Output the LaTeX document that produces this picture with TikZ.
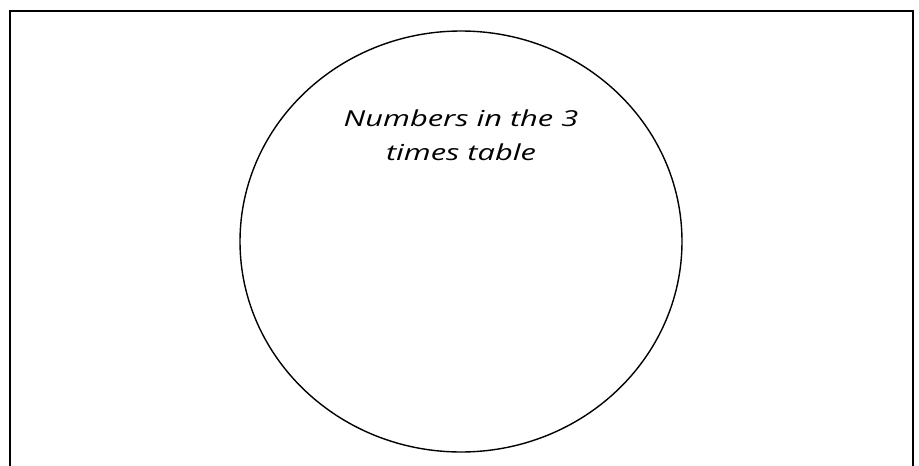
\documentclass[tikz,border=0pt]{standalone}
\usepackage{fontspec}
\setmainfont{Open Sans}
\newfontfamily\widesans[FakeStretch=1.40]{Open Sans}
\usetikzlibrary{positioning}
\tikzset{
  frame/.style={draw=black, line width=2pt},
  setring/.style={draw=black, line width=1.4pt},
  settitle/.style={align=center, font=\widesans\itshape\fontsize{22}{34}\selectfont}
}
\begin{document}
\begin{tikzpicture}[x=1pt, y=-1pt]
  \useasboundingbox (0,0) rectangle (919,466);
  % outer box, open at the bottom
  \draw[frame] (10,470) -- (10,11) -- (913,11) -- (913,470);
  % the set
  \draw[setring] (461,241.5) ellipse (221 and 210.5);
  \node[settitle] (title) at (461,135) {Numbers in the 3\\times table};
\end{tikzpicture}
\end{document}
